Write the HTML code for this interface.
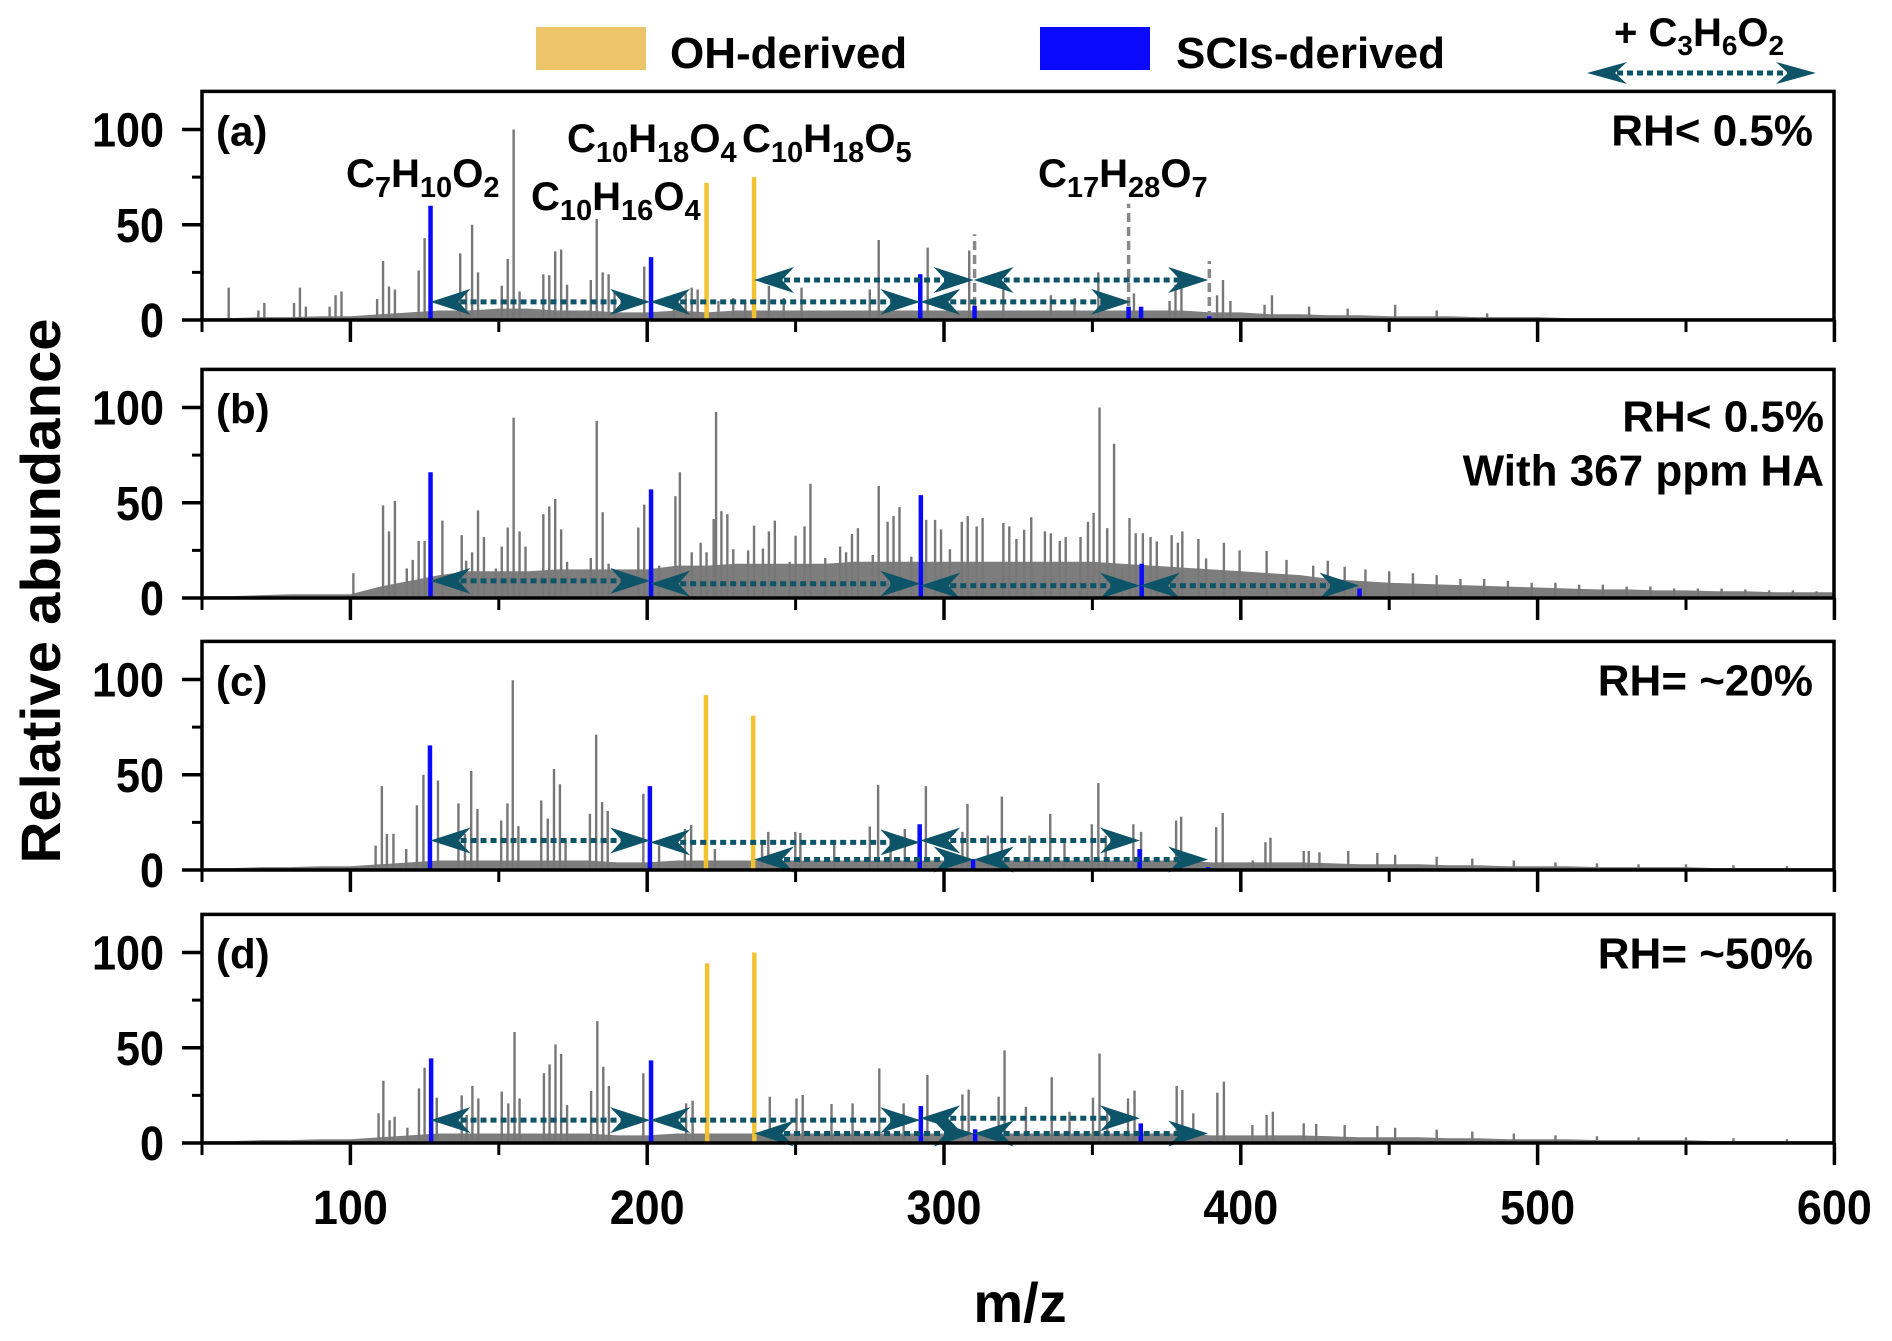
<!DOCTYPE html>
<html><head><meta charset="utf-8"><style>
html,body{margin:0;padding:0;background:#fff;}
svg{display:block;font-family:"Liberation Sans",Arial,sans-serif;font-weight:bold;}
</style></head><body>
<svg id="chart" width="1892" height="1341" viewBox="0 0 1892 1341" xmlns="http://www.w3.org/2000/svg">
<g id="legend">
  <rect x="536" y="27" width="110" height="43" fill="#ecc56a"/>
  <text x="670" y="68" font-size="44">OH-derived</text>
  <rect x="1040" y="27" width="110" height="43" fill="#0a0aff"/>
  <text x="1176" y="68" font-size="44">SCIs-derived</text>
  <text x="1614" y="46" font-size="40">+ C<tspan font-size="28" dy="9">3</tspan><tspan dy="-9">H</tspan><tspan font-size="28" dy="9">6</tspan><tspan dy="-9">O</tspan><tspan font-size="28" dy="9">2</tspan></text>
</g>
<g id="layer"></g>
<text transform="translate(60,591) rotate(-90)" text-anchor="middle" font-size="56" textLength="545" lengthAdjust="spacingAndGlyphs">Relative abundance</text>
<text x="1020" y="1322" text-anchor="middle" font-size="56">m/z</text>
</svg>
<script>
// ---- data ----
const panelNames = ['a','b','c','d'];
const panelLabels = ['(a)','(b)','(c)','(d)'];
const xTicks = [100,200,300,400,500,600];
const xMinorTicks = [50,150,250,350,450,550];
const yTicks = [0,50,100];
const yMinorTicks = [25,75];
const bgMz = [50,60,70,80,90,100,110,120,130,140,150,160,170,180,190,200,210,220,230,240,250,260,270,280,290,300,310,320,330,340,350,360,370,380,390,400,410,420,430,440,450,460,470,480,490,500,510,520,530,540,550,560,570,580,590,600];
const bgA = [1,1,1.5,1.5,2,2,3,4,5,5,6,6,5,5,4,4,5,4,5,5,5,5,5,5,5,5,5,5,5,5,5,5,5,5,4,4,3,3,2.5,2.5,2,2,2,1.5,1.5,1.5,1,1,1,1,1,1,1,1,1,1];
const bgB = [1,1,1.5,2,2,2,6,9,12,14,14,14,15,15,15,15,17,17,18,18,18,18,19,19,19,19,19,19,19,19,19,18,17,16,15,14,13,12,10,9,8,7.5,7,6.5,6,5.5,5,4.5,4.5,4,4,3.5,3.5,3,3,3];
const bgC = [1,1,1.5,1.5,2,2,3,4,5,5,5,5,5,5,4,4,5,5,5,5,5,5,5,5,5,5,5,5,5,5,5,5,5,5,4,4,4,4,3.5,3,3,3,2.5,2.5,2,2,2,1.5,1.5,1.5,1.5,1,1,1,1,1];
const bgD = [1,1,1.5,1.5,2,2,3,4,5,5,5,5,5,5,4,4,5,5,5,5,5,5,5,5,5,5,5,5,5,5,5,5,5,5,4,4,4,4,3.5,3,3,3,2.5,2.5,2,2,2,1.5,1.5,1.5,1.5,1,1,1,1,1];
const peaksA = [[59,17],[69,5],[71,9],[81,9],[83,17],[85,7],[93,7],[95,13],[97,15],[109,11],[111,31],[113,17.6],[115,16],[123,26],[125,43],[137,35],[139,15],[141,50],[143,25],[151,18],[153,32],[155,100],[157,15],[165,24],[167,23.5],[169,36],[171,37],[173,18.5],[181,21],[183,53],[185,25],[187,24],[189,15],[199,28],[209,10.6],[213,14],[215,17],[217,16],[224,10],[229,11.5],[233,10.6],[241,18],[246,11.5],[252,17],[275,16],[278,42],[294.5,38],[308.5,36.5],[320,16],[336,13],[344,11.5],[352,25],[364,14],[376,10],[378,18.5],[380,18],[392,13],[394,21],[396.5,10],[408,8],[410.5,13],[423,7],[436,6],[452,8],[466,5],[483,3.5]];
const peaksB = [[101,13],[111,48.6],[113,35],[115,51],[119,15.5],[121,20],[123,30],[125,30],[131,40.6],[137.5,33],[139,19.6],[141,24],[143,46],[145,32],[149,15.5],[151,27],[153,37],[155,94.7],[157,35],[159,27],[165,44],[167,48],[169,52],[171,36],[173,19],[181,21],[183,93],[185,45],[187,18],[197,37],[199,49],[204,17],[209.5,53.5],[211,66],[215,24],[218,29],[220,24],[222.4,41.5],[223.2,97.7],[225,45.6],[227,44],[229,25.6],[234,25],[236,38],[239,26],[241,35],[243,40.6],[248,19],[250,32.7],[253,37.6],[255,60],[260,21],[265,27],[267,24],[269,33.6],[271,36.7],[276,22.6],[278,58.8],[281,40],[283,43],[285,47.7],[289,21.7],[294,41],[297,41],[299,36],[302,25.6],[306,40],[308,43],[311,37.6],[313,42],[320,39.4],[322,37.6],[324.4,31],[327,35.8],[329.4,42.4],[334,35],[336,34],[339,30],[341,32],[346,32],[348.5,40],[350.4,44.7],[352.4,100],[355,36.7],[357.3,81],[360,16],[362.5,42],[364.6,34],[367,34],[369.6,32],[371.7,29.7],[376.7,33],[378.8,29],[380.3,35],[385.7,31],[388.3,20.8],[394.3,29],[399.6,25],[408.7,24.7],[415.4,20],[424.4,17],[429.3,19.6],[435,16.4],[442,15],[450,14],[458,13],[466,12],[474,10],[482,10],[490,9],[498,8],[506,8],[514,7],[522,7],[530,6],[538,6],[546,5],[554,5],[562,5],[570,4.5],[578,4],[586,4],[594,3.5]];
const peaksC = [[108.5,12.8],[110.6,44],[112.3,19],[114.5,19],[118.8,11],[122.4,34],[124.6,50],[129.5,47],[136.4,35],[138.6,19],[140.7,52],[142.8,32],[150.8,26],[152.9,35],[154.7,99.6],[156.6,23],[164.3,36.5],[166.5,27],[168.6,53],[170.6,45],[172.5,16],[180.7,29.5],[182.8,71],[184.8,35.6],[186.7,31],[198.7,40],[204,12.8],[212.7,21.6],[214.8,23.7],[222.8,11],[238.7,14.6],[240.8,20],[249.9,20],[251.6,19.5],[263,13.7],[275,22.8],[277.8,44.7],[282,16],[286.8,21.6],[293.9,44],[306.2,20],[307.9,34.7],[314.8,18],[319.5,38.6],[328.8,18],[335.8,29.5],[340.6,16],[349.8,24],[352,45.6],[354.5,18],[363.8,24],[366.4,20],[378.2,26],[379.9,28],[391.7,22.5],[393.9,30],[404,5],[408.3,14.6],[410,17],[421.2,10],[422.9,10],[426.5,9.3],[436.2,10],[446,9],[452,8],[466,7],[478,6],[492,5],[506,4],[520,3.5],[534,3],[550,3],[566,2.5],[584,2]];
const peaksD = [[109.5,15.6],[111.1,32.7],[113.2,12],[114.9,13.8],[119.2,8],[123.1,28.7],[125,39.5],[129.1,23.8],[137.5,25],[139.2,14.7],[141.1,30],[143.1,23.4],[151,27],[153.2,20.8],[155.3,58.3],[157,23.4],[165.2,36.6],[167.1,41.3],[169.1,51.8],[171,46.7],[173,20],[181.1,27.3],[183.2,64],[185.2,40],[187.1,30],[198.7,36.6],[213.1,20.8],[215.3,22.2],[241.3,24.3],[250.3,23.4],[252.4,25.2],[262.1,20.5],[269.2,20.8],[278.2,39.2],[286.4,20.8],[294.4,35.7],[306.2,25.5],[308.3,28],[318.4,24.3],[320.4,48.6],[327.6,19],[336.3,34.5],[342.3,16.4],[350.2,23.8],[352.4,47],[355,16.4],[362,23.4],[364.2,27.5],[378.4,30],[380.3,27.8],[384,15.6],[392.1,26.4],[394.3,32.2],[403.9,9.4],[408.7,14.7],[410.8,16.4],[421.2,10.3],[425.4,10],[435,9.4],[446,9],[452,8],[466,7],[478,6],[492,5],[506,4],[520,3.5],[534,3],[550,3],[566,2.5],[584,2]];
const assignedA = [[127,60,'sci'],[201.3,33,'sci'],[220,72,'oh'],[236,75,'oh'],[292,24,'sci'],[310.3,7.4,'sci'],[362.2,7,'sci'],[366.4,7,'sci'],[389.4,2,'sci']];
const assignedB = [[127,66,'sci'],[201.3,57,'sci'],[292.2,54,'sci'],[366.6,18,'sci'],[440,5,'sci']];
const assignedC = [[126.8,65.4,'sci'],[200.9,44,'sci'],[219.8,91.8,'oh'],[235.7,81,'oh'],[291.8,24,'sci'],[309.8,5.8,'sci'],[365.9,11,'sci'],[389,1.5,'sci']];
const assignedD = [[127.2,44.4,'sci'],[201.3,43.4,'sci'],[220.2,94.3,'oh'],[236.1,100,'oh'],[292.2,19.4,'sci'],[310.5,7.2,'sci'],[366.3,10.3,'sci'],[389.5,1,'sci']];
const dashedA = [[310.3,45],[362.2,61],[389.4,31]];
const arrowsA = [[127,201,9.5],[201,292,9.5],[292,363,9.5],[236,310,21],[310,389,21]];
const arrowsB = [[127,201,9],[201,292,7.5],[292,366,6.5],[366,440,6.5]];
const arrowsC = [[127,201,15.5],[201,292,14.5],[292,366,15.5],[236,310,5.5],[310,389,5.5]];
const arrowsD = [[127,201,12],[201,292,12],[292,366,13],[236,310,5],[310,389,5]];
const rhLines = [['RH< 0.5%'],['RH< 0.5%','With 367 ppm HA'],['RH= ~20%'],['RH= ~50%']];

// ---- layout ----
const zeroYs = [320,598,870,1143];
const PX_PER_UNIT = 1.905;
const X0 = 202, X1 = 1834;
function xs(mz){ return X0 + (mz-50)*2.968; }
function ys(p,v){ return zeroYs[p] - v*PX_PER_UNIT; }
const NS = 'http://www.w3.org/2000/svg';
const layer = document.getElementById('layer');
function mk(tag, attrs, parent){
  const e = document.createElementNS(NS, tag);
  for (const k in attrs) e.setAttribute(k, attrs[k]);
  (parent||layer).appendChild(e);
  return e;
}
const bgs = [bgA,bgB,bgC,bgD];
const peaks = [peaksA,peaksB,peaksC,peaksD];
const assigned = [assignedA,assignedB,assignedC,assignedD];
const arrows = [arrowsA,arrowsB,arrowsC,arrowsD];

function drawArrow(g,x1,x2,y){
  const grp = mk('g',{}, g);
  
  
  mk('line',{x1:x1+20,x2:x2-20,y1:y,y2:y,stroke:'#0e5468',"stroke-width":5,"stroke-dasharray":'6 4'}, grp);
  mk('path',{d:'M'+x2+','+y+' l-40,-13 l12,13 l-12,13 Z',fill:'#0e5468'}, grp);
  mk('path',{d:'M'+x1+','+y+' l40,-13 l-12,13 l12,13 Z',fill:'#0e5468'}, grp);
}

for (let p=0;p<4;p++){
  const g = mk('g',{});
  
  
  let d = 'M'+xs(bgMz[0])+','+ys(p,0);
  for (let i=0;i<bgMz.length;i++) d += ' L'+xs(bgMz[i]).toFixed(1)+','+ys(p,bgs[p][i]).toFixed(1);
  d += ' L'+xs(bgMz[bgMz.length-1])+','+ys(p,0)+' Z';
  const bg = mk('path',{d:d, fill:'#7d7d7d'}, g);
  
  
  peaks[p].forEach(function(pk){
    const l = mk('line',{x1:xs(pk[0]),x2:xs(pk[0]),y1:ys(p,0),y2:ys(p,pk[1]),stroke:'#777',"stroke-width":2.4}, g);
    
    
  });
  if (p===0){
    dashedA.forEach(function(pk){
      const l = mk('line',{x1:xs(pk[0]),x2:xs(pk[0]),y1:ys(p,0),y2:ys(p,pk[1]),stroke:'#888',"stroke-width":3.5,"stroke-dasharray":'9 5'}, g);
      
      
    });
  }
  assigned[p].forEach(function(pk){
    const l = mk('line',{x1:xs(pk[0]),x2:xs(pk[0]),y1:ys(p,0),y2:ys(p,pk[1]),stroke:pk[2]==='oh'?'#f2c232':'#0a0aff',"stroke-width":4.5}, g);
    
    
  });
  arrows[p].forEach(function(a){
    drawArrow(g, xs(a[0]), xs(a[1]), ys(p,a[2]));
  });
  const top = ys(p,120);
  const fr = mk('rect',{x:X0,y:top,width:X1-X0,height:zeroYs[p]-top,fill:'none',stroke:'#000',"stroke-width":3.5}, g);
  
  
  xTicks.forEach(function(t){
    const l = mk('line',{x1:xs(t),x2:xs(t),y1:zeroYs[p],y2:zeroYs[p]+22,stroke:'#000',"stroke-width":3.5}, g);
    
    
  });
  xMinorTicks.forEach(function(t){
    const l = mk('line',{x1:xs(t),x2:xs(t),y1:zeroYs[p],y2:zeroYs[p]+12,stroke:'#000',"stroke-width":3}, g);
    
    
  });
  yTicks.forEach(function(t){
    const l = mk('line',{x1:X0-20,x2:X0,y1:ys(p,t),y2:ys(p,t),stroke:'#000',"stroke-width":3.5}, g);
    
    
    const tx = mk('text',{x:164,y:ys(p,t)+17,"text-anchor":'end',"font-size":48,textLength:(String(t).length*24),lengthAdjust:'spacingAndGlyphs'}, g);
    tx.textContent = String(t);
    
    
  });
  yMinorTicks.forEach(function(t){
    const l = mk('line',{x1:X0-10,x2:X0,y1:ys(p,t),y2:ys(p,t),stroke:'#000',"stroke-width":3}, g);
    
    
  });
  const pl = mk('text',{x:216,y:ys(p,100)+16,"font-size":42}, g);
  pl.textContent = panelLabels[p];
  
  
  rhLines[p].forEach(function(s,i){
    const t = mk('text',{x:(p===1?1824:1813),y:ys(p,100)+(p===1?24:16)+i*54,"text-anchor":'end',"font-size":44}, g);
    t.textContent = s;
    
    
  });
}
xTicks.forEach(function(t){
  const tx = mk('text',{x:xs(t),y:1224,"text-anchor":'middle',"font-size":48,textLength:(String(t).length*25),lengthAdjust:'spacingAndGlyphs'});
  tx.textContent = String(t);
  
  
});
const la = mk('g',{});


mk('line',{x1:1607,x2:1796,y1:73,y2:73,stroke:'#0e5468',"stroke-width":5,"stroke-dasharray":'6 4'}, la);
mk('path',{d:'M1816,73 l-40,-11 l12,11 l-12,11 Z',fill:'#0e5468'}, la);
mk('path',{d:'M1587,73 l40,-11 l-12,11 l12,11 Z',fill:'#0e5468'}, la);
const formulas = [
  [346,187,[['C',0],['7',1],['H',0],['10',1],['O',0],['2',1]],'formula-c7h10o2'],
  [531,210,[['C',0],['10',1],['H',0],['16',1],['O',0],['4',1]],'formula-c10h16o4'],
  [567,152,[['C',0],['10',1],['H',0],['18',1],['O',0],['4',1]],'formula-c10h18o4'],
  [742,152,[['C',0],['10',1],['H',0],['18',1],['O',0],['5',1]],'formula-c10h18o5'],
  [1038,187,[['C',0],['17',1],['H',0],['28',1],['O',0],['7',1]],'formula-c17h28o7']
];
formulas.forEach(function(f){
  const t = mk('text',{x:f[0],y:f[1],"font-size":40});
  
  
  let prevSub = 0;
  f[2].forEach(function(seg){
    const s = document.createElementNS(NS,'tspan');
    s.textContent = seg[0];
    const dy = seg[1] ? (prevSub?0:10) : (prevSub?-10:0);
    if (dy) s.setAttribute('dy', dy);
    if (seg[1]) s.setAttribute('font-size', 29);
    t.appendChild(s);
    prevSub = seg[1];
  });
});
</script>
</body></html>
